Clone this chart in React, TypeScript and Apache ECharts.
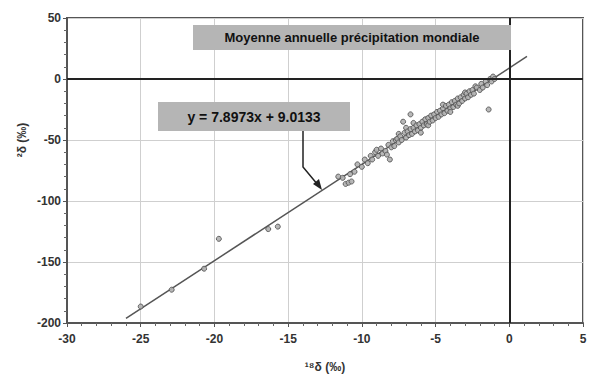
import { useEffect, useRef } from "react";
import * as echarts from "echarts";

// δ18O (‰) vs δ2H (‰) — world annual mean precipitation
const clusterPoints: [number, number][] = [
  [-11.6, -80], [-11.3, -81], [-11.1, -86], [-10.9, -85], [-10.7, -84], [-10.8, -78],
  [-10.5, -76], [-10.3, -70], [-10.0, -72], [-9.8, -66], [-9.6, -69], [-9.4, -63],
  [-9.3, -66], [-9.1, -60], [-9.0, -58], [-8.9, -63], [-8.7, -57], [-8.6, -61],
  [-8.4, -59], [-8.3, -62], [-8.2, -54], [-8.1, -66], [-8.0, -56], [-7.9, -51],
  [-7.8, -55], [-7.7, -50], [-7.6, -49], [-7.5, -52], [-7.5, -45], [-7.4, -47],
  [-7.3, -50], [-7.2, -35], [-7.1, -44], [-7.0, -48], [-7.0, -40], [-6.9, -43],
  [-6.8, -46], [-6.7, -29], [-6.7, -41], [-6.6, -45], [-6.5, -40], [-6.5, -36],
  [-6.4, -43], [-6.3, -38], [-6.2, -42], [-6.1, -37], [-6.0, -40], [-6.0, -44],
  [-5.9, -35], [-5.8, -38], [-5.7, -33], [-5.6, -37], [-5.5, -32], [-5.5, -38],
  [-5.4, -35], [-5.3, -30], [-5.2, -34], [-5.1, -29], [-5.0, -32], [-4.9, -27],
  [-4.8, -31], [-4.7, -26], [-4.6, -29], [-4.5, -24], [-4.5, -21], [-4.4, -28],
  [-4.3, -22], [-4.2, -26], [-4.1, -21], [-4.0, -24], [-4.0, -27], [-3.9, -19],
  [-3.8, -23], [-3.7, -18], [-3.6, -21], [-3.5, -16], [-3.5, -22], [-3.4, -20],
  [-3.3, -15], [-3.2, -18], [-3.1, -13], [-3.0, -16], [-3.0, -11], [-2.9, -12],
  [-2.8, -15], [-2.7, -10], [-2.6, -13], [-2.5, -9], [-2.4, -12], [-2.3, -6],
  [-2.2, -7], [-2.0, -9], [-1.9, -4], [-1.8, -7], [-1.6, -2], [-1.5, -5],
  [-1.4, -25], [-1.3, 0], [-1.2, -2], [-1.1, 2], [-1.0, 0],
];

const coldPoints: [number, number][] = [
  [-25.0, -186.5], [-22.9, -172.7], [-20.7, -155.5], [-19.7, -131],
  [-16.35, -123], [-15.7, -121],
];

// regression endpoints, y = 7.8973x + 9.0133
const fitLine: [number, number][] = [[-26, -196.3], [1.2, 18.5]];

const equationText = "y = 7.8973x + 9.0133";
const titleText = "Moyenne annuelle précipitation mondiale";
const xName = "¹⁸δ (‰)";
const yName = "²δ (‰)";

const xMin = -30, xMax = 5, xStep = 5;
const yMin = -200, yMax = 50, yStep = 50;

const FONT = "'Liberation Sans', Arial, sans-serif";

export default function App() {
  const ref = useRef<HTMLDivElement>(null);
  useEffect(() => {
    if (!ref.current) return;
    const chart = echarts.init(ref.current, undefined, { renderer: "svg" });
    const axisCommon = {
      type: "value" as const,
      axisLine: { show: true, onZero: false, lineStyle: { color: "#555", width: 2 } },
      axisTick: { show: true, length: 4, lineStyle: { color: "#555", width: 1 } },
      minorTick: { show: true, splitNumber: 5, length: 3, lineStyle: { color: "#666", width: 1 } },
      splitLine: { show: true, lineStyle: { color: "#cfcfcf", width: 1 } },
      axisLabel: { color: "#333", fontSize: 12, fontWeight: "bold" as const, fontFamily: FONT },
    };
    chart.setOption({
      animation: false,
      backgroundColor: "#fff",
      grid: {
        left: 67, right: 7, top: 18, bottom: 51,
        show: true, borderColor: "#555", borderWidth: 2,
      },
      xAxis: {
        ...axisCommon,
        min: xMin, max: xMax, interval: xStep,
        axisLabel: { ...axisCommon.axisLabel, margin: 10 },
        name: xName,
        nameLocation: "middle",
        nameGap: 38,
        nameTextStyle: { color: "#333", fontSize: 12, fontWeight: "bold", fontFamily: FONT },
      },
      yAxis: {
        ...axisCommon,
        min: yMin, max: yMax, interval: yStep,
        axisLabel: { ...axisCommon.axisLabel, margin: 6 },
      },
      series: [
        {
          type: "line",
          data: fitLine,
          symbol: "none",
          lineStyle: { color: "#555", width: 1.5 },
          silent: true,
          z: 3,
          markLine: {
            silent: true,
            symbol: "none",
            label: { show: false },
            lineStyle: { color: "#222", width: 2, type: "solid" },
            data: [{ xAxis: 0 }, { yAxis: 0 }],
          },
        },
        {
          type: "scatter",
          data: [...clusterPoints, ...coldPoints],
          symbol: "circle",
          symbolSize: 5,
          itemStyle: { color: "#b0b0b0", borderColor: "#555", borderWidth: 1, opacity: 0.9 },
          z: 4,
        },
      ],
      graphic: [
        {
          type: "rect",
          shape: { x: 193, y: 25, width: 318, height: 25 },
          style: { fill: "#b5b5b5" },
          z: 10,
        },
        {
          type: "text",
          x: 352, y: 37.5,
          style: {
            text: titleText, fill: "#111", fontSize: 13, fontWeight: "bold",
            fontFamily: FONT, align: "center", verticalAlign: "middle",
          },
          z: 11,
        },
        {
          type: "rect",
          shape: { x: 158, y: 102, width: 192, height: 29 },
          style: { fill: "#b5b5b5" },
          z: 10,
        },
        {
          type: "text",
          x: 254, y: 116.5,
          style: {
            text: equationText, fill: "#111", fontSize: 14, fontWeight: "bold",
            fontFamily: FONT, align: "center", verticalAlign: "middle",
          },
          z: 11,
        },
        {
          type: "polyline",
          shape: { points: [[303, 131], [303, 167], [318, 185]] },
          style: { stroke: "#222", lineWidth: 1.5, fill: "none" },
          z: 11,
        },
        {
          type: "polygon",
          shape: { points: [[322, 190], [313, 184], [319, 179]] },
          style: { fill: "#222" },
          z: 11,
        },
        {
          type: "text",
          x: 22, y: 140,
          rotation: Math.PI / 2,
          style: {
            text: yName, fill: "#333", fontSize: 12, fontWeight: "bold",
            fontFamily: FONT, align: "center", verticalAlign: "middle",
          },
          z: 11,
        },
      ],
    });
    return () => chart.dispose();
  }, []);
  return (
    <div
      ref={ref}
      style={{ position: "fixed", left: 0, top: 0, width: 590, height: 378 }}
    />
  );
}
